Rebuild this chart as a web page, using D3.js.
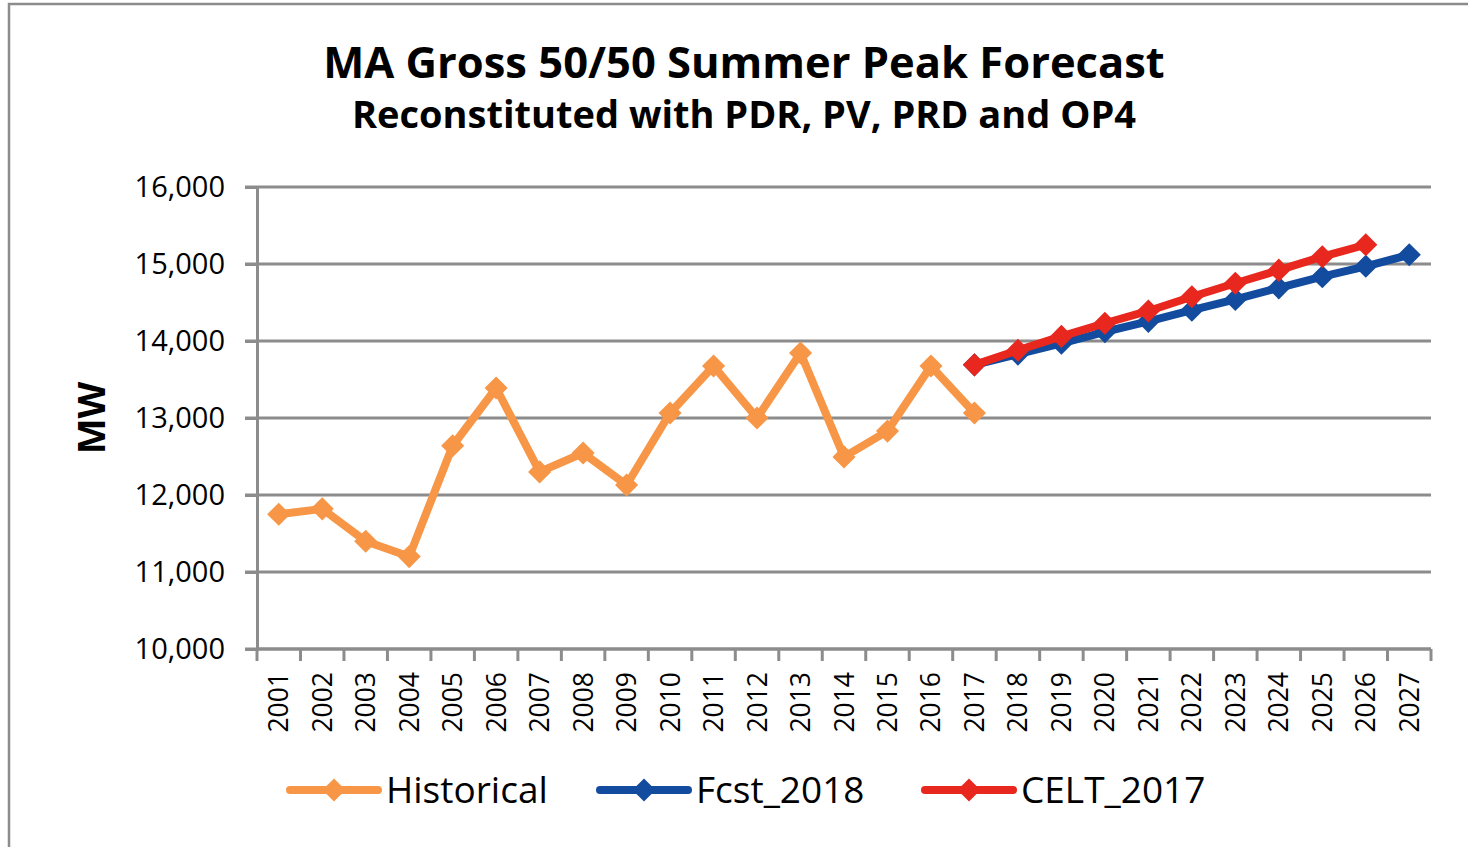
<!DOCTYPE html>
<html>
<head>
<meta charset="utf-8">
<script src="https://cdn.jsdelivr.net/npm/d3@7"></script>
<style>
  html, body { margin: 0; padding: 0; background: #fff; }
  svg { display: block; font-family: "Open Sans", "Noto Sans", sans-serif; }
</style>
</head>
<body>
<svg id="chart" width="1468" height="847"></svg>
<script>
// ----------- DATA -----------
const years = d3.range(2001, 2028).map(String);
const yTicks = [10000, 11000, 12000, 13000, 14000, 15000, 16000];

const historicalYears = d3.range(2001, 2018).map(String);
const historical = [11750, 11820, 11400, 11200, 12640, 13390, 12300, 12545, 12130,
                    13065, 13675, 13000, 13845, 12495, 12830, 13675, 13065];

const fcstYears = d3.range(2017, 2028).map(String);
const fcst2018 = [13690, 13830, 13970, 14120, 14255, 14400, 14540, 14690, 14835, 14970, 15120];

const celtYears = d3.range(2017, 2027).map(String);
const celt2017 = [13690, 13880, 14060, 14230, 14390, 14575, 14750, 14920, 15095, 15250];

const series = [
  { name: "Historical", color: "#f79646", xs: historicalYears, ys: historical },
  { name: "Fcst_2018", color: "#134b9e", xs: fcstYears, ys: fcst2018 },
  { name: "CELT_2017", color: "#e8281e", xs: celtYears, ys: celt2017 }
];

// ----------- CHART -----------
const svg = d3.select("#chart");
const grid = "#8c8c8c";

// outer frame
svg.append("rect")
  .attr("x", 9).attr("y", 4).attr("width", 1480).attr("height", 900)
  .attr("fill", "none").attr("stroke", grid).attr("stroke-width", 2.5);

const plotLeft = 257, plotRight = 1431, plotTop = 187, plotBottom = 649;

const x = d3.scaleBand().domain(years).range([plotLeft, plotRight]);
const y = d3.scaleLinear().domain([10000, 16000]).range([plotBottom, plotTop]);
const cx = d => x(d) + x.bandwidth() / 2;

// title
svg.append("text")
  .attr("x", 744).attr("y", 78)
  .attr("text-anchor", "middle")
  .attr("font-size", 43.5).attr("font-weight", "bold")
  .text("MA Gross 50/50 Summer Peak Forecast");
svg.append("text")
  .attr("x", 744).attr("y", 128)
  .attr("text-anchor", "middle")
  .attr("font-size", 38).attr("font-weight", "bold")
  .text("Reconstituted with PDR, PV, PRD and OP4");

// gridlines
svg.append("g")
  .selectAll("line")
  .data(yTicks)
  .join("line")
  .attr("x1", plotLeft - 12).attr("x2", plotRight)
  .attr("y1", d => y(d)).attr("y2", d => y(d))
  .attr("stroke", grid).attr("stroke-width", 3);

// y axis
const yAxis = svg.append("g")
  .attr("transform", `translate(${plotLeft},0)`)
  .call(d3.axisLeft(y).tickValues(yTicks).tickFormat(d3.format(",")).tickSize(12).tickPadding(20));
yAxis.select(".domain").attr("stroke", grid).attr("stroke-width", 3);
yAxis.selectAll(".tick line").attr("stroke", grid).attr("stroke-width", 3);
yAxis.selectAll(".tick text").attr("font-size", 29).attr("fill", "#000")
  .attr("font-family", "'Open Sans', sans-serif");

// x axis: ticks on band boundaries
const xAxis = svg.append("g").attr("transform", `translate(0,${plotBottom})`);
xAxis.append("line")
  .attr("x1", plotLeft).attr("x2", plotRight)
  .attr("stroke", grid).attr("stroke-width", 3);
xAxis.selectAll("line.tk")
  .data(years.concat(["end"]))
  .join("line").attr("class", "tk")
  .attr("x1", (d, i) => plotLeft + i * x.step()).attr("x2", (d, i) => plotLeft + i * x.step())
  .attr("y1", 0).attr("y2", 12)
  .attr("stroke", grid).attr("stroke-width", 3);
xAxis.selectAll("text")
  .data(years)
  .join("text")
  .attr("transform", d => `translate(${cx(d) + 9.5},23) rotate(-90)`)
  .attr("text-anchor", "end")
  .attr("font-size", 26.5)
  .text(d => d);

// y label
svg.append("text")
  .attr("transform", "translate(105,418) rotate(-90)")
  .attr("text-anchor", "middle")
  .attr("font-size", 38).attr("font-weight", "bold")
  .text("MW");

// lines + markers
const line = d3.line().x(d => cx(d[0])).y(d => y(d[1]));
const diamond = d3.symbol().type(d3.symbolDiamond2).size(340);

series.forEach(s => {
  const pts = s.xs.map((d, i) => [d, s.ys[i]]);
  const g = svg.append("g");
  g.append("path")
    .datum(pts)
    .attr("d", line)
    .attr("fill", "none")
    .attr("stroke", s.color)
    .attr("stroke-width", 8)
    .attr("stroke-linejoin", "round");
  g.selectAll("path.mk")
    .data(pts)
    .join("path").attr("class", "mk")
    .attr("d", diamond)
    .attr("transform", d => `translate(${cx(d[0])},${y(d[1])})`)
    .attr("fill", s.color);
});

// legend
const legendX = [290, 600, 925];
series.forEach((s, i) => {
  const g = svg.append("g").attr("transform", `translate(${legendX[i]},790)`);
  g.append("line")
    .attr("x1", 0).attr("x2", 88)
    .attr("stroke", s.color).attr("stroke-width", 8).attr("stroke-linecap", "round");
  g.append("path")
    .attr("d", diamond)
    .attr("transform", "translate(44,0)")
    .attr("fill", s.color);
  g.append("text")
    .attr("x", 96).attr("y", 13)
    .attr("font-size", 37)
    .text(s.name);
});
</script>
</body>
</html>
